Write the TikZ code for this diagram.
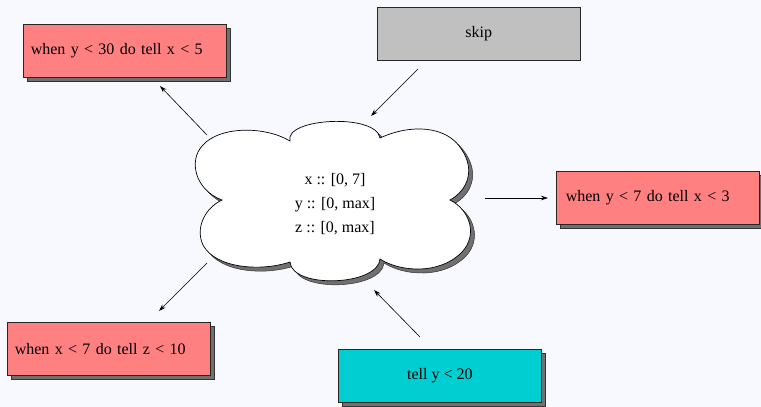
\documentclass[tikz,border=0pt]{standalone}
\usepackage{fontspec}
\setmainfont{Liberation Serif}
\usetikzlibrary{arrows.meta,shadows}
\definecolor{bgc}{RGB}{248,248,255}
\definecolor{redfill}{RGB}{255,128,128}
\definecolor{skipfill}{RGB}{192,192,192}
\definecolor{cyanfill}{RGB}{0,206,209}
\definecolor{shadowgray}{RGB}{112,112,112}
\tikzset{
  boxbase/.style={draw=black!85, line width=0.6pt, minimum width=203pt, minimum height=53pt, font=\fontsize{16}{18}\selectfont, inner sep=0pt},
  shad/.style={general shadow={shadow xshift=4pt, shadow yshift=-4pt, fill=shadowgray, draw=black!80, line width=0.5pt}},
  redbox/.style={boxbase, shad, fill=redfill, text width=188pt, align=left},
  skipbox/.style={boxbase, fill=skipfill, align=center},
  cyanbox/.style={boxbase, shad, fill=cyanfill, align=center},
  conn/.style={line width=0.6pt, -{Stealth[length=7pt,width=4.5pt]}},
}
\begin{document}
\begin{tikzpicture}[x=1pt,y=-1pt]
\useasboundingbox (0,0) rectangle (761,407);
\fill[bgc] (0,0) rectangle (761,407);
\def\cloudpath{(222,200) .. controls (195,190) and (188,160) .. (203,145) .. controls (220,126) and (265,126) .. (290,141)
 .. controls (284,118) and (376,113) .. (380,138)
 .. controls (410,124) and (447,125) .. (462,150) .. controls (475,170) and (468,190) .. (450,200)
 .. controls (470,210) and (478,235) .. (462,252) .. controls (440,275) and (400,272) .. (380,259)
 .. controls (378,286) and (292,289) .. (290,262)
 .. controls (260,272) and (215,268) .. (203,245) .. controls (195,228) and (205,208) .. (222,200) -- cycle}
\begin{scope}[shift={(4,4)}]
\filldraw[fill=shadowgray, draw=black!80, line width=0.5pt] \cloudpath;
\end{scope}
\filldraw[fill=white, draw=black, line width=0.7pt] \cloudpath;
\node[align=center, font=\fontsize{16}{24}\selectfont] (store) at (335,204) {x :: [0, 7]\\y :: [0, max]\\z :: [0, max]};

\node[redbox, anchor=north west] (ask1) at (23,24) {when y < 30 do tell x < 5};
\node[skipbox, anchor=north west] (skip) at (377,7) {skip};
\node[redbox, anchor=north west, text width=184pt] (ask2) at (556,171) {when y < 7 do tell x < 3};
\node[redbox, anchor=north west, text width=188pt] (ask3) at (7,322) {when x < 7 do tell z < 10};
\node[cyanbox, anchor=north west] (tell) at (338,349) {tell y < 20};

\coordinate (a1s) at (207,135);
\coordinate (a1e) at (160,86);
\coordinate (a2s) at (418,69);
\coordinate (a2e) at (371,116);
\coordinate (a3s) at (485,198);
\coordinate (a3e) at (548,198);
\coordinate (a4s) at (207,263);
\coordinate (a4e) at (159,311);
\coordinate (a5s) at (420,337);
\coordinate (a5e) at (374,290);
\draw[conn] (a1s) -- (a1e);
\draw[conn] (a2s) -- (a2e);
\draw[conn] (a3s) -- (a3e);
\draw[conn] (a4s) -- (a4e);
\draw[conn] (a5s) -- (a5e);
\end{tikzpicture}
\end{document}
